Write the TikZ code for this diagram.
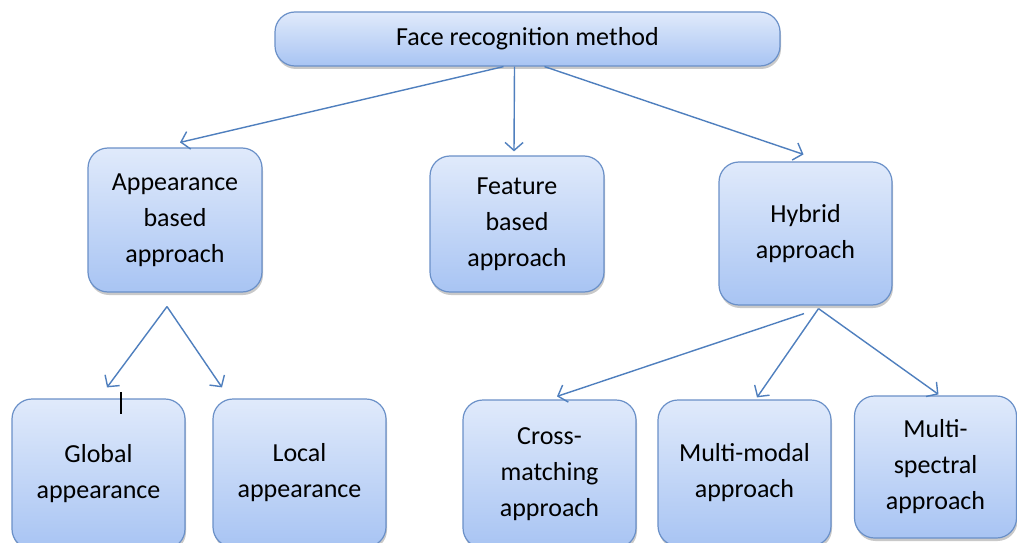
\documentclass[tikz,border=0pt]{standalone}
\usepackage{fontspec}
\setmainfont{Carlito}
\usetikzlibrary{shadows,arrows.meta}
\definecolor{boxtop}{HTML}{E0EAFB}
\definecolor{boxbot}{HTML}{A8C4F3}
\definecolor{boxline}{HTML}{6A90C8}
\definecolor{arrcol}{HTML}{4F7FBE}
\tikzset{
  box/.style={draw=boxline, line width=1.2pt, rounded corners=20pt,
    top color=boxtop, bottom color=boxbot, align=center, inner sep=0pt,
    font=\fontsize{26}{36}\selectfont, text=black,
    drop shadow={shadow xshift=1pt, shadow yshift=-3pt, opacity=0.35, fill=black!60}},
  arr/.style={draw=arrcol, line width=1.4pt, -{Straight Barb[length=8pt,width=18pt,line width=1.4pt]}}
}
\begin{document}
\begin{tikzpicture}[x=1pt,y=-1pt]
\useasboundingbox[fill=white] (0,0) rectangle (1017,543);
\clip (0,0) rectangle (1017,543);
\node[box, minimum width=505pt, minimum height=54pt] (top) at (527.5,39) {Face recognition method};
\node[box, minimum width=174pt, minimum height=144pt] (app) at (175,220) {Appearance\\based\\approach};
\node[box, minimum width=174pt, minimum height=136pt] (feat) at (517,224) {Feature\\based\\approach};
\node[box, minimum width=173pt, minimum height=143pt] (hyb) at (805.5,233.5) {Hybrid\\approach};
\node[box, minimum width=173pt, minimum height=150pt] (glob) at (98.5,474) {Global\\appearance};
\node[box, minimum width=173pt, minimum height=148pt] (loc) at (299.5,473) {Local\\appearance};
\node[box, minimum width=173pt, minimum height=148pt] (cross) at (549.5,474) {Cross-\\matching\\approach};
\node[box, minimum width=173pt, minimum height=146pt] (mm) at (744.5,473) {Multi-modal\\approach};
\node[box, minimum width=162pt, minimum height=142pt] (ms) at (935.5,467) {Multi-\\spectral\\approach};
% arrows from top
\draw[arr] ([xshift=-24pt]top.south) -- ([xshift=5pt,yshift=5pt]app.north);
\draw[arr] ([xshift=-13pt]top.south) -- ([xshift=-3pt,yshift=4pt]feat.north);
\draw[arr] ([xshift=17pt]top.south) -- ([xshift=-2pt,yshift=7pt]hyb.north);
% appearance split
\coordinate (appv) at ([xshift=-8pt,yshift=-14pt]app.south);
\draw[arr] (appv) -- ([xshift=8.5pt,yshift=11pt]glob.north);
\draw[arr] (appv) -- ([xshift=-77.5pt,yshift=11pt]loc.north);
% hybrid split
\coordinate (hl) at ([xshift=-1.5pt,yshift=-8pt]hyb.south);
\coordinate (hr) at ([xshift=13pt,yshift=-3pt]hyb.south);
\draw[arr] (hl) -- ([xshift=7.5pt,yshift=3pt]cross.north);
\draw[arr] (hr) -- ([xshift=12.5pt,yshift=2pt]mm.north);
\draw[arr] (hr) -- ([xshift=3pt,yshift=1pt]ms.north);
% text cursor mark
\coordinate (cur) at ([xshift=22.5pt,yshift=6pt]glob.north);
\draw[black, line width=1.3pt] (cur) -- ++(0,22);
\end{tikzpicture}
\end{document}
